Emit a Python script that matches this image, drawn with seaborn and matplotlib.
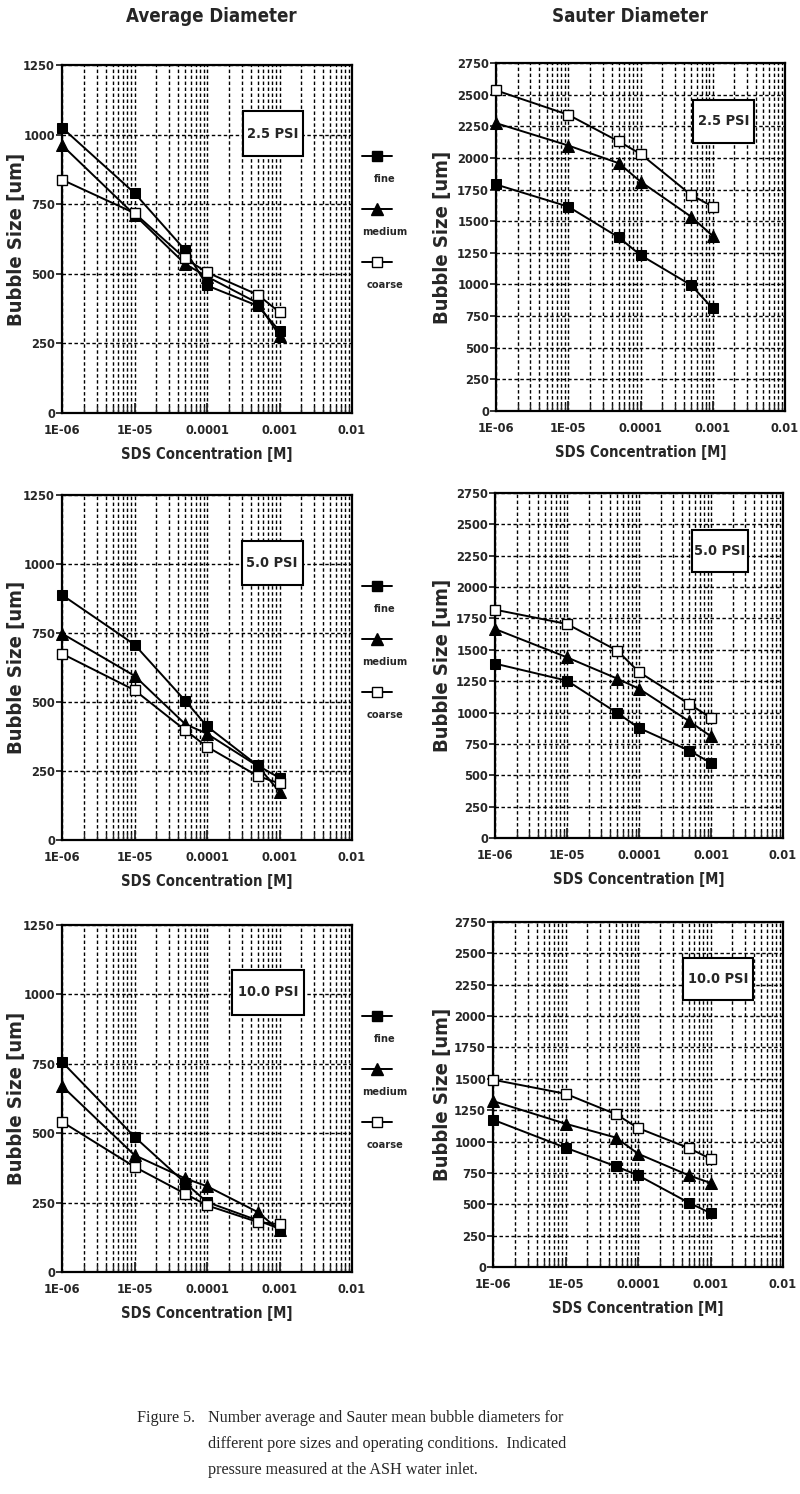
import numpy as np
import pandas as pd
import seaborn as sns
import matplotlib
matplotlib.use("Agg")
import matplotlib.pyplot as plt
from matplotlib import font_manager as fm
from matplotlib.ticker import FixedLocator, FixedFormatter, LogLocator, NullFormatter
from matplotlib.lines import Line2D
from matplotlib.patches import Rectangle

sns.set_style("ticks")

# ---- font choice: prefer a condensed bold sans like the original ----
_names = {f.name for f in fm.fontManager.ttflist}
_files = [f.fname for f in fm.fontManager.ttflist]
if "Liberation Sans Narrow" in _names:
    FAM = ["Liberation Sans Narrow", "DejaVu Sans"]
    STRETCH = "normal"
    WF = 0.82
elif any("DejaVuSansCondensed" in p for p in _files):
    FAM = ["DejaVu Sans"]
    STRETCH = "condensed"
    WF = 0.97
else:
    FAM = ["Liberation Sans", "DejaVu Sans"]
    STRETCH = "normal"
    WF = 1.0
plt.rcParams['font.family'] = FAM
plt.rcParams['font.stretch'] = STRETCH
plt.rcParams['font.weight'] = 'bold'

FS_TICK = 10.5 / WF * 0.86
FS_XLABEL = 12.0 / WF * 0.86
FS_YLABEL = 13.0 / WF * 1.08
FS_TITLE = 15.0 / WF * 0.87
FS_LEG = 11.0 / WF * 0.70
FS_BOX = 11.5 / WF * 0.88

# ---------------- data ----------------
conc = [1e-6, 1e-5, 5e-5, 1e-4, 5e-4, 1e-3]
pores = ["fine", "medium", "coarse"]
pressures = ["2.5 PSI", "5.0 PSI", "10.0 PSI"]

avg_25_fine = [1025, 790, 585, 458, 385, 295]
avg_25_medium = [962, 712, 535, 490, 395, 278]
avg_25_coarse = [838, 718, 555, 505, 425, 362]

avg_50_fine = [888, 708, 505, 412, 270, 225]
avg_50_medium = [748, 595, 420, 385, 268, 175]
avg_50_coarse = [675, 543, 398, 338, 232, 205]

avg_10_fine = [757, 487, 321, 252, 186, 156]
avg_10_medium = [670, 421, 337, 309, 216, 150]
avg_10_coarse = [541, 379, 282, 240, 180, 172]

sau_25_fine = [1790, 1615, 1372, 1232, 995, 810]
sau_25_medium = [2275, 2098, 1958, 1813, 1536, 1383]
sau_25_coarse = [2534, 2341, 2130, 2032, 1708, 1615]

sau_50_fine = [1390, 1254, 996, 877, 696, 598]
sau_50_medium = [1666, 1440, 1270, 1190, 930, 810]
sau_50_coarse = [1820, 1706, 1493, 1323, 1068, 956]

sau_10_fine = [1174, 951, 802, 731, 513, 430]
sau_10_medium = [1323, 1142, 1031, 903, 731, 670]
sau_10_coarse = [1493, 1381, 1217, 1108, 948, 863]

avg_yticks = [0, 250, 500, 750, 1000, 1250]
sau_yticks = [0, 250, 500, 750, 1000, 1250, 1500, 1750, 2000, 2250, 2500, 2750]
x_ticks = [1e-6, 1e-5, 1e-4, 1e-3, 1e-2]
x_ticklabels = ["1E-06", "1E-05", "0.0001", "0.001", "0.01"]

avg_sets = [
    [avg_25_fine, avg_25_medium, avg_25_coarse],
    [avg_50_fine, avg_50_medium, avg_50_coarse],
    [avg_10_fine, avg_10_medium, avg_10_coarse],
]
sau_sets = [
    [sau_25_fine, sau_25_medium, sau_25_coarse],
    [sau_50_fine, sau_50_medium, sau_50_coarse],
    [sau_10_fine, sau_10_medium, sau_10_coarse],
]

styles = {
    "fine": dict(marker="s", markerfacecolor="black", markeredgecolor="black", markersize=6.5),
    "medium": dict(marker="^", markerfacecolor="black", markeredgecolor="black", markersize=8),
    "coarse": dict(marker="s", markerfacecolor="white", markeredgecolor="black", markersize=6.5,
                   markeredgewidth=1.0),
}

W, H = 800, 1494
fig = plt.figure(figsize=(W / 100, H / 100), dpi=100)

# axes rectangles in pixels: (left, top, width, height)
left_rects = [(62, 65, 290, 348), (62, 495, 290, 345), (62, 925, 290, 347)]
right_rects = [(496, 63, 289, 348), (495, 493, 288, 345), (493, 922, 290, 345)]
# annotation boxes in axes fraction: (x0, y0, x1, y1)
box_left = [(0.624, 0.738, 0.830, 0.868), (0.620, 0.739, 0.830, 0.867), (0.586, 0.741, 0.834, 0.870)]
box_right = [(0.682, 0.770, 0.893, 0.894), (0.684, 0.771, 0.880, 0.893), (0.655, 0.774, 0.897, 0.896)]


def px_rect(r):
    l, t, w, h = r
    return [l / W, 1 - (t + h) / H, w / W, h / H]


def style_axis(ax, yticks, ymax, ylab_x, h_px):
    ax.set_xscale("log")
    ax.set_xlim(1e-6, 1e-2)
    ax.set_ylim(0, ymax)
    ax.xaxis.set_major_locator(FixedLocator(x_ticks))
    ax.xaxis.set_major_formatter(FixedFormatter(x_ticklabels))
    ax.xaxis.set_minor_locator(LogLocator(base=10, subs=np.arange(2, 10), numticks=20))
    ax.xaxis.set_minor_formatter(NullFormatter())
    ax.yaxis.set_major_locator(FixedLocator(yticks))
    ax.grid(True, which="major", axis="both", color="black", linestyle=(0, (2.5, 1.8)), linewidth=1.0)
    ax.grid(True, which="minor", axis="x", color="black", linestyle=(0, (2.5, 1.8)), linewidth=1.0)
    for s in ax.spines.values():
        s.set_visible(True)
        s.set_linewidth(1.6)
        s.set_color("black")
    ax.tick_params(axis="x", which="major", direction="in", length=7, width=1.3, labelsize=FS_TICK, pad=8)
    ax.tick_params(axis="x", which="minor", direction="in", length=5, width=1.0)
    ax.tick_params(axis="y", which="major", direction="out", length=4, width=1.3, labelsize=FS_TICK, pad=1)
    for lab in ax.get_xticklabels() + ax.get_yticklabels():
        lab.set_fontweight("bold")
    ax.set_xlabel("SDS Concentration [M]", fontsize=FS_XLABEL, fontweight="bold")
    ax.set_ylabel("Bubble Size [um]", fontsize=FS_YLABEL, fontweight="bold")
    ax.xaxis.set_label_coords(0.5, -34 / h_px)
    ax.yaxis.set_label_coords(ylab_x, 0.5)


def draw(ax, series):
    for pore, vals in zip(pores, series):
        df = pd.DataFrame({"conc": conc, "size": vals})
        sns.lineplot(data=df, x="conc", y="size", ax=ax, color="black", linewidth=1.4,
                     legend=False, clip_on=False, zorder=5, **styles[pore])


def add_box(ax, b, text):
    x0, y0, x1, y1 = b
    ax.add_patch(Rectangle((x0, y0), x1 - x0, y1 - y0, transform=ax.transAxes,
                           facecolor="white", edgecolor="black", linewidth=1.5, zorder=6))
    ax.text((x0 + x1) / 2, (y0 + y1) / 2, text, transform=ax.transAxes, ha="center", va="center",
            fontsize=FS_BOX, fontweight="bold", zorder=7)


for i in range(3):
    axl = fig.add_axes(px_rect(left_rects[i]))
    draw(axl, avg_sets[i])
    style_axis(axl, avg_yticks, 1250, (26 - 62) / 290, left_rects[i][3])
    add_box(axl, box_left[i], pressures[i])

    axr = fig.add_axes(px_rect(right_rects[i]))
    draw(axr, sau_sets[i])
    style_axis(axr, sau_yticks, 2750, (452 - right_rects[i][0]) / right_rects[i][2], right_rects[i][3])
    add_box(axr, box_right[i], pressures[i])

    # legend between columns: handle row, then label below
    top = left_rects[i][1]
    for j, pore in enumerate(pores):
        yh = top + 91 + 53 * j
        yt = yh + 23
        fy = 1 - yh / H
        fig.add_artist(Line2D([362 / W, 377 / W, 392 / W], [fy, fy, fy], color="black", linewidth=1.4,
                              markevery=[1], transform=fig.transFigure, **styles[pore]))
        fig.text(385 / W, 1 - yt / H, pore, ha="center", va="center", fontsize=FS_LEG, fontweight="bold")

fig.text(211 / W, 1 - 16 / H, "Average Diameter", ha="center", va="center", fontsize=FS_TITLE, fontweight="bold")
fig.text(630 / W, 1 - 16 / H, "Sauter Diameter", ha="center", va="center", fontsize=FS_TITLE, fontweight="bold")

cap_font = ['Liberation Serif', 'DejaVu Serif']
fig.text(137 / W, 1 - 1418 / H, "Figure 5.", ha="left", va="center", fontsize=11.6,
         family=cap_font, fontweight="normal", fontstretch="normal")
cap_lines = ["Number average and Sauter mean bubble diameters for",
             "different pore sizes and operating conditions.  Indicated",
             "pressure measured at the ASH water inlet."]
for k, line in enumerate(cap_lines):
    fig.text(208 / W, 1 - (1418 + 26 * k) / H, line, ha="left", va="center", fontsize=11.6,
             family=cap_font, fontweight="normal", fontstretch="normal")

fig.savefig("out.png", dpi=100, facecolor="white")
